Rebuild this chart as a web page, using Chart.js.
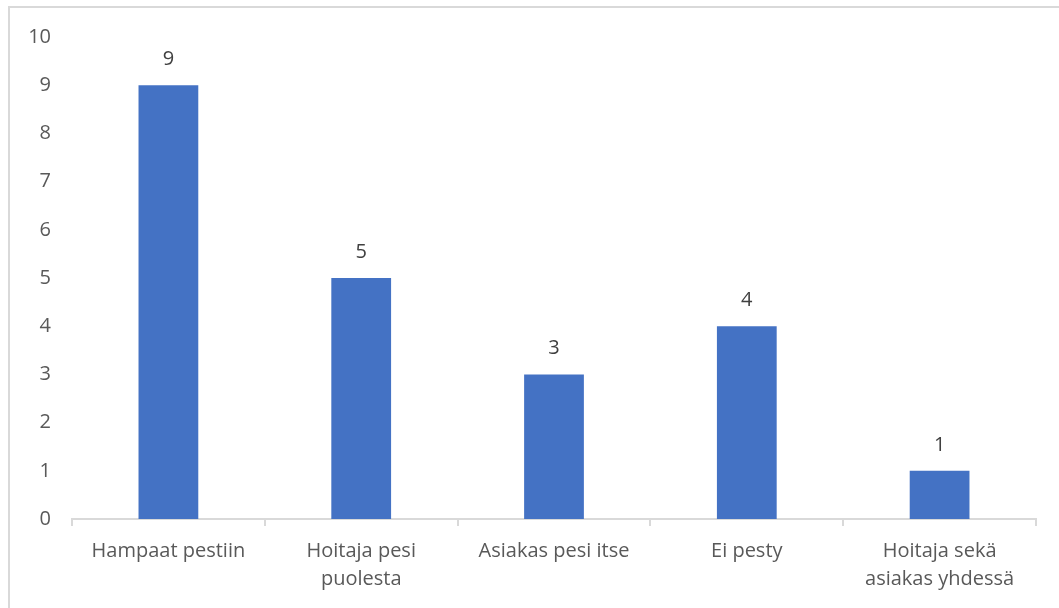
<!DOCTYPE html>
<html>
<head>
<meta charset="utf-8">
<script src="https://cdn.jsdelivr.net/npm/chart.js@4"></script>
<style>
    html, body { margin: 0; padding: 0; background: #fff; overflow: hidden; }
    #wrap { position: relative; width: 1059px; height: 608px; }
    #frame {
        position: absolute; left: 8px; top: 6px; width: 1100px; height: 700px;
        border: 2px solid #d9d9d9; box-sizing: border-box; pointer-events: none;
    }
    canvas { position: absolute; left: 0; top: 0; }
</style>
</head>
<body>
<div id="wrap">
    <canvas id="chart" width="1059" height="608"></canvas>
    <div id="frame"></div>
</div>
<script>
const categories = [
    'Hampaat pestiin',
    ['Hoitaja pesi', 'puolesta'],
    'Asiakas pesi itse',
    'Ei pesty',
    ['Hoitaja sekä', 'asiakas yhdessä']
];
const counts = [9, 5, 3, 4, 1];
const yTicks = [0, 1, 2, 3, 4, 5, 6, 7, 8, 9, 10];

const fontFamily = '"Open Sans", "Noto Sans", sans-serif';

const valueLabels = {
    id: 'valueLabels',
    afterDatasetsDraw(chart) {
        const ctx = chart.ctx;
        const meta = chart.getDatasetMeta(0);
        ctx.save();
        ctx.fillStyle = '#404040';
        ctx.font = `20px ${fontFamily}`;
        ctx.textAlign = 'center';
        ctx.textBaseline = 'middle';
        meta.data.forEach((bar, i) => {
            ctx.fillText(String(counts[i]), bar.x, bar.y - 26);
        });
        ctx.restore();
    }
};

new Chart(document.getElementById('chart'), {
    type: 'bar',
    data: {
        labels: categories,
        datasets: [{
            data: counts,
            backgroundColor: '#4472C4',
            borderWidth: 0,
            categoryPercentage: 1,
            barPercentage: 0.31
        }]
    },
    options: {
        responsive: false,
        animation: false,
        devicePixelRatio: 1,
        layout: { padding: { left: 0, top: 37, right: 23, bottom: 0 } },
        plugins: {
            legend: { display: false },
            tooltip: { enabled: false }
        },
        scales: {
            x: {
                afterFit: scale => { scale.height = 89; },
                border: { display: true, color: '#d9d9d9', width: 2 },
                grid: {
                    display: true,
                    drawOnChartArea: false,
                    drawTicks: true,
                    tickLength: 7,
                    color: '#d9d9d9',
                    lineWidth: 2
                },
                ticks: {
                    color: '#595959',
                    font: { family: fontFamily, size: 20, lineHeight: 1.4 },
                    padding: 11,
                    maxRotation: 0,
                    autoSkip: false
                }
            },
            y: {
                min: 0,
                max: 10,
                afterFit: scale => { scale.width = 72; },
                afterBuildTicks: scale => {
                    scale.ticks = yTicks.map(v => ({ value: v }));
                },
                border: { display: false },
                grid: { display: false, drawTicks: false },
                ticks: {
                    color: '#595959',
                    font: { family: fontFamily, size: 20 },
                    padding: 21
                }
            }
        }
    },
    plugins: [valueLabels]
});
</script>
</body>
</html>
